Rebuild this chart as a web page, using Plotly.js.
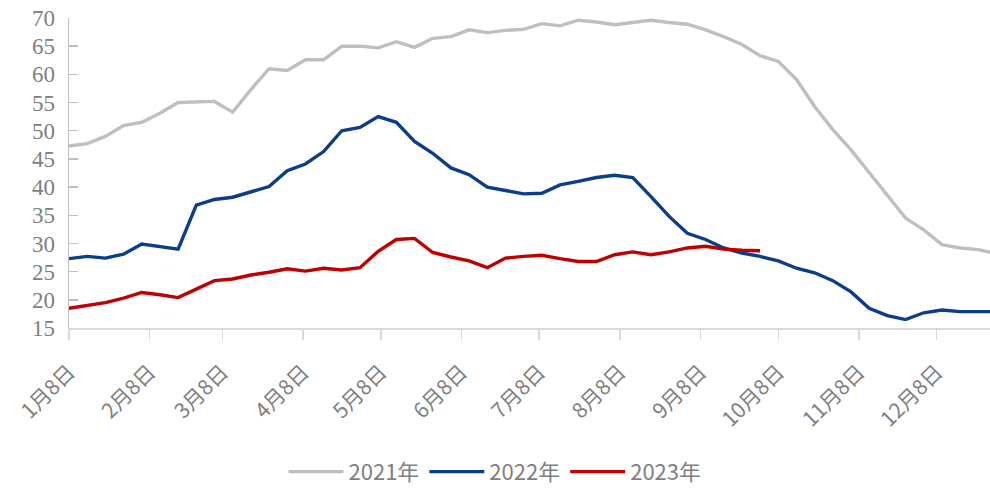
<!DOCTYPE html>
<html>
<head>
<meta charset="utf-8">
<script src="https://cdn.plot.ly/plotly-3.0.1.min.js"></script>
<style>html,body{margin:0;padding:0;background:#fff;}#chart{width:990px;height:491px;}</style>
</head>
<body>
<div id="chart"></div>
<script>
// weekly observation dates (plotted on a common calendar)
const weekDates = [
  '2021-01-08','2021-01-15','2021-01-22','2021-01-29','2021-02-05','2021-02-12','2021-02-19','2021-02-26',
  '2021-03-05','2021-03-12','2021-03-19','2021-03-26','2021-04-02','2021-04-09','2021-04-16','2021-04-23',
  '2021-04-30','2021-05-07','2021-05-14','2021-05-21','2021-05-28','2021-06-04','2021-06-11','2021-06-18',
  '2021-06-25','2021-07-02','2021-07-09','2021-07-16','2021-07-23','2021-07-30','2021-08-06','2021-08-13',
  '2021-08-20','2021-08-27','2021-09-03','2021-09-10','2021-09-17','2021-09-24','2021-10-01','2021-10-08',
  '2021-10-15','2021-10-22','2021-10-29','2021-11-05','2021-11-12','2021-11-19','2021-11-26','2021-12-03',
  '2021-12-10','2021-12-17','2021-12-24','2021-12-31'
];

const seriesNames = ['2021年', '2022年', '2023年'];

const values2021 = [
  47.3, 47.7, 49.0, 50.9, 51.5, 53.1, 55.0, 55.1, 55.2, 53.3, 57.3, 61.0, 60.7, 62.6, 62.6, 65.0,
  65.0, 64.7, 65.8, 64.8, 66.4, 66.7, 67.9, 67.4, 67.8, 68.0, 69.0, 68.6, 69.6, 69.3, 68.8, 69.2,
  69.6, 69.2, 68.9, 67.9, 66.7, 65.3, 63.3, 62.3, 59.1, 54.3, 50.2, 46.6, 42.5, 38.6, 34.5, 32.4,
  29.8, 29.2, 28.9, 28.2
];

const values2022 = [
  27.3, 27.7, 27.4, 28.1, 29.9, 29.5, 29.0, 36.8, 37.8, 38.2, 39.1, 40.1, 42.9, 44.1, 46.3, 50.0,
  50.6, 52.5, 51.5, 48.1, 46.0, 43.4, 42.2, 40.0, 39.4, 38.8, 38.9, 40.4, 41.0, 41.7, 42.1, 41.7,
  38.3, 34.8, 31.8, 30.7, 29.2, 28.3, 27.7, 26.9, 25.6, 24.8, 23.4, 21.4, 18.5, 17.2, 16.5, 17.7,
  18.2, 17.9, 17.9, 17.9
];

const values2023 = [
  18.5, 19.0, 19.5, 20.3, 21.3, 20.9, 20.4, 21.9, 23.4, 23.7, 24.4, 24.9, 25.5, 25.1, 25.6, 25.3,
  25.7, 28.6, 30.7, 30.9, 28.4, 27.6, 26.9, 25.7, 27.4, 27.7, 27.9, 27.3, 26.8, 26.8, 28.0, 28.5,
  28.0, 28.5, 29.2, 29.5, 29.0, 28.8, 28.7
];

const tickDates = ['2021-01-08','2021-02-08','2021-03-08','2021-04-08','2021-05-08','2021-06-08',
                   '2021-07-08','2021-08-08','2021-09-08','2021-10-08','2021-11-08','2021-12-08'];
const tickLabels = ['1月8日','2月8日','3月8日','4月8日','5月8日','6月8日',
                    '7月8日','8月8日','9月8日','10月8日','11月8日','12月8日'];
const yTicks = [15, 20, 25, 30, 35, 40, 45, 50, 55, 60, 65, 70];

const colors = ['#bfbfbf', '#0b3d8c', '#c00000'];
const allValues = [values2021, values2022, values2023];

const traces = allValues.map((vals, k) => ({
  type: 'scatter',
  mode: 'lines',
  name: seriesNames[k],
  x: weekDates.slice(0, vals.length),
  y: vals,
  line: {color: colors[k], width: 3.4},
  hoverinfo: 'x+y+name'
}));

const layout = {
  width: 990, height: 491,
  margin: {l: 69, r: 0, t: 18, b: 163, autoexpand: false},
  paper_bgcolor: '#ffffff',
  plot_bgcolor: '#ffffff',
  showlegend: true,
  legend: {
    orientation: 'h', x: 0.5, xref: 'container', xanchor: 'center',
    y: 0.039, yref: 'container', yanchor: 'middle',
    font: {family: 'Noto Sans CJK SC, Noto Sans, sans-serif', size: 22, color: '#808080'},
    itemwidth: 55, tracegroupgap: 0
  },
  xaxis: {
    type: 'date', automargin: false,
    range: ['2021-01-08', '2021-12-28 12:00'],
    tickmode: 'array', tickvals: tickDates, ticktext: tickLabels,
    tickangle: -45,
    tickfont: {family: 'Noto Sans CJK SC, Noto Sans, sans-serif', size: 21, color: '#808080'},
    ticks: 'outside', ticklen: 10, tickcolor: '#d9d9d9', tickwidth: 1.5,
    ticklabelstandoff: 12,
    showline: true, linecolor: '#d9d9d9', linewidth: 1.5,
    showgrid: false, zeroline: false
  },
  yaxis: {
    range: [15, 70], automargin: false,
    tickmode: 'array', tickvals: yTicks,
    tickfont: {family: 'Liberation Serif, Times New Roman, serif', size: 23, color: '#808080'},
    ticks: 'inside', ticklen: 9, tickcolor: '#bfbfbf', tickwidth: 1.5,
    ticklabelstandoff: 8,
    showline: true, linecolor: '#bfbfbf', linewidth: 1.5,
    showgrid: false, zeroline: false
  }
};

Plotly.newPlot('chart', traces, layout, {displayModeBar: false, staticPlot: true});
</script>
</body>
</html>
